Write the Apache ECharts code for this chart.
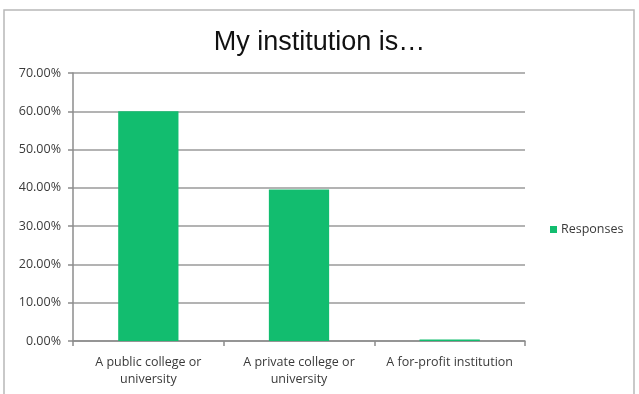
<!DOCTYPE html>
<html>
<head>
<meta charset="utf-8">
<script src="https://cdn.jsdelivr.net/npm/echarts@6/dist/echarts.min.js"></script>
<style>
  html, body { margin: 0; padding: 0; background: #ffffff; }
  #chart { width: 639px; height: 394px; }
</style>
</head>
<body>
<div id="chart"></div>
<script>
// Institution type categories and the share of responses for each (percent)
const categories = [
  'A public college or\nuniversity',
  'A private college or\nuniversity',
  'A for-profit institution'
];
const responses = [60.0, 39.6, 0.4];
const yTicks = [0, 10, 20, 30, 40, 50, 60, 70];

const chart = echarts.init(document.getElementById('chart'), null, { renderer: 'canvas' });

const labelFont = '"Open Sans", Lato, sans-serif';

chart.setOption({
  animation: false,
  backgroundColor: '#ffffff',
  graphic: [{
    type: 'rect',
    shape: { x: 4, y: 10, width: 630, height: 400 },
    style: { fill: 'none', stroke: '#b8b8b8', lineWidth: 1.5 },
    silent: true,
    z: -1
  }],
  title: {
    text: 'My institution is…',
    left: 'center',
    top: 24,
    textStyle: {
      fontFamily: '"Liberation Sans", Arial, sans-serif',
      fontWeight: 'normal',
      fontSize: 27,
      color: '#111111'
    }
  },
  legend: {
    data: ['Responses'],
    orient: 'vertical',
    left: 545,
    top: 218,
    itemWidth: 7,
    itemHeight: 7,
    itemGap: 4,
    icon: 'rect',
    textStyle: { fontFamily: labelFont, fontSize: 12.5, color: '#3a3a3a', padding: [0, 0, 0, -1] }
  },
  grid: { left: 73, right: 114, top: 73, bottom: 53, containLabel: false },
  xAxis: {
    type: 'category',
    data: categories,
    axisLine: { lineStyle: { color: '#8c8c8c', width: 1.5 } },
    axisTick: { show: true, alignWithLabel: false, length: 5, lineStyle: { color: '#8c8c8c', width: 1.5 } },
    axisLabel: {
      fontFamily: labelFont,
      fontSize: 12.5,
      color: '#3a3a3a',
      lineHeight: 17,
      margin: 13,
      interval: 0
    }
  },
  yAxis: {
    type: 'value',
    min: yTicks[0],
    max: yTicks[yTicks.length - 1],
    interval: 10,
    axisLine: { show: true, lineStyle: { color: '#8c8c8c', width: 1.5 } },
    axisTick: { show: true, inside: false, length: 5, lineStyle: { color: '#8c8c8c', width: 1.5 } },
    splitLine: { show: true, lineStyle: { color: '#9a9a9a', width: 1.5 } },
    axisLabel: {
      fontFamily: labelFont,
      fontSize: 12.5,
      color: '#3a3a3a',
      margin: 12,
      formatter: v => v.toFixed(2) + '%'
    }
  },
  series: [{
    name: 'Responses',
    type: 'bar',
    data: responses,
    barWidth: '40%',
    itemStyle: { color: '#12bd6f' }
  }]
});
</script>
</body>
</html>
